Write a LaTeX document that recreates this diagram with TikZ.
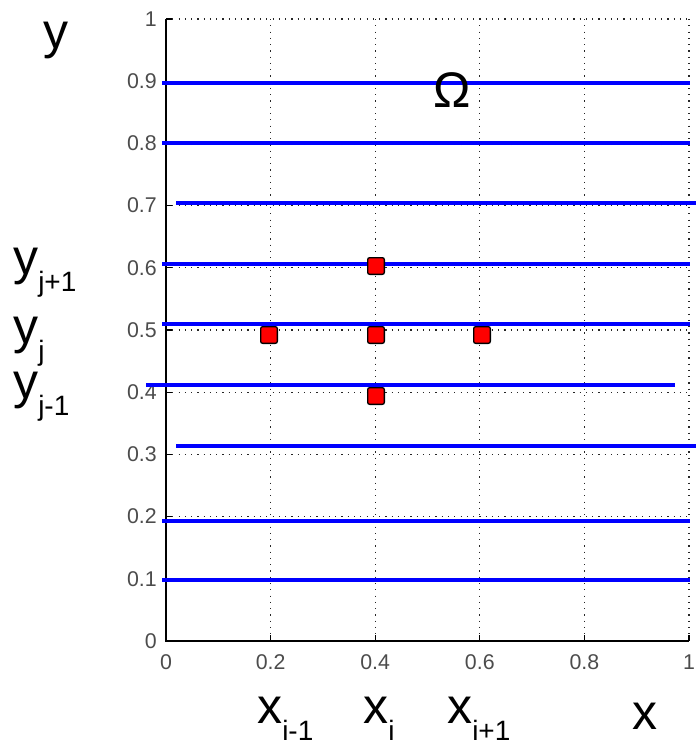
\documentclass[tikz,border=0pt]{standalone}
\usepackage{fontspec}
\setmainfont{Liberation Sans}
\definecolor{ticktext}{rgb}{0.3,0.3,0.3}
\definecolor{lineblue}{rgb}{0,0,1}
\newcommand{\bigfont}{\fontsize{37.5}{40}\selectfont}
\newcommand{\subfont}{\fontsize{21}{24}\selectfont}
\newcommand{\sublbl}[1]{\raisebox{-12.75pt}{\subfont #1}}
\begin{document}
\begin{tikzpicture}[x=0.75pt,y=-0.75pt,
  gridline/.style={black!85,line width=0.9pt,dash pattern=on 0.9pt off 3.8pt},
  axisline/.style={black,line width=1pt},
  bluebar/.style={lineblue,line width=3.3pt},
  marker/.style={draw=black,fill=red,line width=1pt,rounded corners=1.5pt,minimum width=12.5pt,minimum height=12.5pt,inner sep=0pt},
  ticklbl/.style={text=ticktext,font=\fontsize{16}{18}\selectfont,inner sep=0pt},
  biglbl/.style={anchor=base west,inner sep=0pt,font=\bigfont}]
\useasboundingbox (0,0) rectangle (696,744);
% grid
\foreach \v in {0.2,0.4,0.6,0.8,1}
  \draw[gridline] ({166+523*\v},19) -- ({166+523*\v},641);
\foreach \v in {0.1,0.2,...,1.0}
  \draw[gridline] (166,{641-622*\v}) -- (689,{641-622*\v});
% axes
\draw[axisline] (166,19) -- (166,641) -- (689,641);
\foreach \v in {0,0.1,0.2,0.3,0.4,0.5,0.6,0.7,0.8,0.9,1}
  \draw[axisline] (166,{641-622*\v}) -- (172,{641-622*\v});
\foreach \v in {0,0.2,0.4,0.6,0.8,1}
  \draw[axisline] ({166+523*\v},641) -- ({166+523*\v},635);
% tick labels
\foreach \v/\t in {0/0,0.1/0.1,0.2/0.2,0.3/0.3,0.4/0.4,0.5/0.5,0.6/0.6,0.7/0.7,0.8/0.8,0.9/0.9,1/1}
  \node[ticklbl,anchor=east] (yt\t) at (157,{641-622*\v}) {\t};
\foreach \v/\t in {0/0,0.2/0.2,0.4/0.4,0.6/0.6,0.8/0.8,1/1}
  \node[ticklbl,anchor=center] (xt\t) at ({166+523*\v},662) {\t};
% blue lines
\draw[bluebar] (162,83) -- (690,83);
\draw[bluebar] (162,143) -- (690,143);
\draw[bluebar] (176,203) -- (696,203);
\draw[bluebar] (162,264) -- (690,264);
\draw[bluebar] (162,324) -- (690,324);
\draw[bluebar] (146,385) -- (675,385);
\draw[bluebar] (176,446) -- (696,446);
\draw[bluebar] (162,521) -- (690,521);
\draw[bluebar] (162,580) -- (690,580);
% markers
\node[marker] (m1) at (376,266) {};
\node[marker] (m2) at (269,335) {};
\node[marker] (m3) at (376,335) {};
\node[marker] (m4) at (482,335) {};
\node[marker] (m5) at (376,396) {};
% labels
\node[biglbl] (omega) at (433,107) {Ω};
\node[biglbl] (ylab) at (43,48) {y};
\node[biglbl] (yjp) at (13,274) {y\sublbl{j+1}};
\node[biglbl] (yj) at (13,343) {y\sublbl{j}};
\node[biglbl] (yjm) at (13,398) {y\sublbl{j-1}};
\node[biglbl] (xim) at (257,723) {x\sublbl{i-1}};
\node[biglbl] (xi) at (363,723) {x\sublbl{i}};
\node[biglbl] (xip) at (447,723) {x\sublbl{i+1}};
\node[biglbl] (xlab) at (632,729) {x};
\end{tikzpicture}
\end{document}
